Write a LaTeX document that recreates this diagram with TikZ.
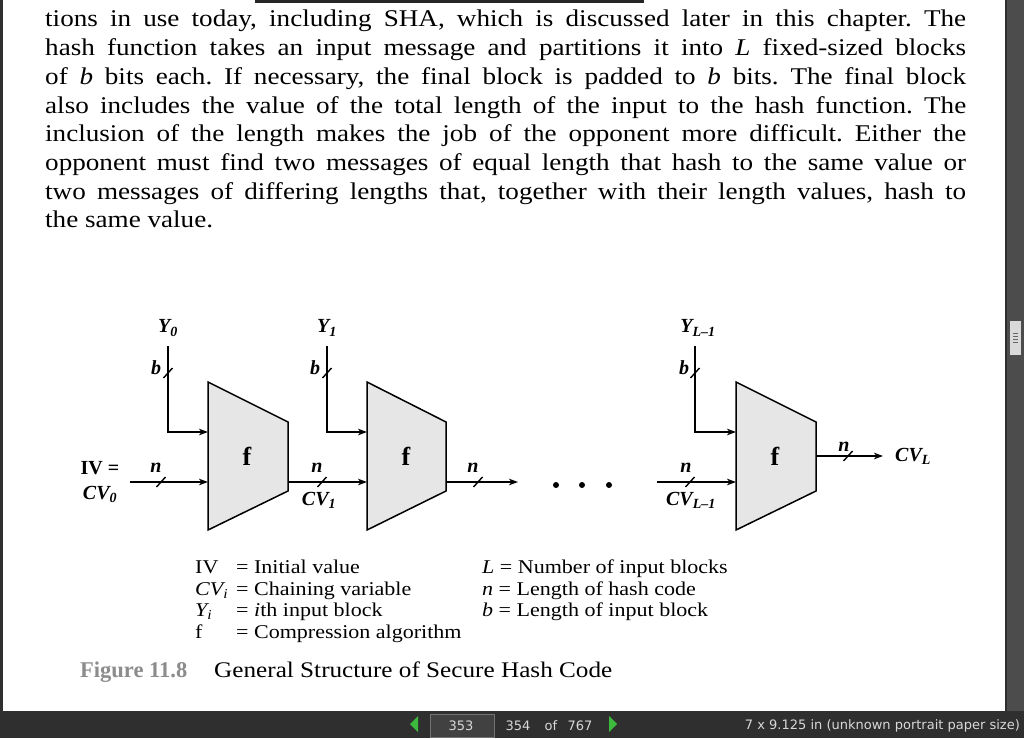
\documentclass[tikz,border=0pt]{standalone}
\usepackage{fontspec}
\setmainfont{Liberation Serif}
\newfontfamily\wideserif{Liberation Serif}[FakeStretch=1.13]
\newfontfamily\uifont{DejaVu Sans}
\usetikzlibrary{positioning,calc,arrows.meta}
\definecolor{uidark}{HTML}{2F2F2F}
\definecolor{uibox}{HTML}{414141}
\definecolor{uitext}{HTML}{D8D8D8}
\definecolor{uigreen}{HTML}{3DBA3D}
\definecolor{fgray}{HTML}{E6E6E6}
\definecolor{capgray}{HTML}{8C8C8C}

\begin{document}
\frenchspacing
\begin{tikzpicture}
                [x=1pt,y=-1pt,
                wire/.style={line width=1.8pt},
                arr/.style={wire,-{Stealth[length=9pt,width=6.5pt,inset=2.5pt]}},
                tick/.style={line width=1.4pt},
                fshape/.style={draw,line width=1.5pt,fill=fgray,line join=miter},
                fname/.style={font=\fontsize{26}{28}\selectfont\bfseries},
                lbl/.style={font=\fontsize{20}{22}\selectfont\bfseries\itshape,inner sep=1pt},
                dot/.style={circle,fill=black,inner sep=0pt,minimum size=6pt},
                body/.style={anchor=base west,inner sep=0pt,font=\wideserif\fontsize{24}{29}\selectfont},
                legend/.style={anchor=base west,inner sep=0pt,font=\wideserif\fontsize{19.5}{22}\selectfont},
                ui/.style={inner sep=0pt,text=uitext,font=\uifont\fontsize{13}{15}\selectfont}]
                % screen and page
                \useasboundingbox (0,0) rectangle (1024,738);
                \fill[uidark] (0,0) rectangle (1024,738);
                \fill[white] (3,0) rectangle (1005,711);
                \fill[black!85] (255,0) rectangle (644,3);
                % scroll bar
                \fill[black!70] (1007,0) rectangle (1024,711);
                \fill[black!15] (1010,321) rectangle (1021,355);
                \draw[black!60,line width=.8pt] (1013,333) -- (1018,333) (1013,336) -- (1018,336)
                        (1013,339) -- (1018,339) (1013,342) -- (1018,342);
                % body text
                \node[body] (l1) at (45,27) {\makebox[921pt][s]{tions in use today, including SHA, which is discussed later in this chapter. The}};
                \node[body] (l2) at (45,55.7) {\makebox[921pt][s]{hash function takes an input message and partitions it into \textit{L} fixed-sized blocks}};
                \node[body] (l3) at (45,84.4) {\makebox[921pt][s]{of \textit{b} bits each. If necessary, the final block is padded to \textit{b} bits. The final block}};
                \node[body] (l4) at (45,113.1) {\makebox[921pt][s]{also includes the value of the total length of the input to the hash function. The}};
                \node[body] (l5) at (45,141.8) {\makebox[921pt][s]{inclusion of the length makes the job of the opponent more difficult. Either the}};
                \node[body] (l6) at (45,170.5) {\makebox[921pt][s]{opponent must find two messages of equal length that hash to the same value or}};
                \node[body] (l7) at (45,199.2) {\makebox[921pt][s]{two messages of differing lengths that, together with their length values, hash to}};
                \node[body] (l8) at (45,227.9) {the same value.};
                % compression blocks
                \draw[fshape] (208,382) -- (288,422) -- (288,491) -- (208,530) -- cycle;
                \draw[fshape] (367,382) -- (446,422) -- (446,491) -- (367,530) -- cycle;
                \draw[fshape] (736,382) -- (816,422) -- (816,491) -- (736,530) -- cycle;
                \node[fname] (f1) at (247,456) {f};
                \node[fname] (f2) at (406,456) {f};
                \node[fname] (f3) at (775,456) {f};
                \coordinate (f1y) at (208,432);
                \coordinate (f1cv) at (208,482);
                \coordinate (f1out) at (288,482);
                \coordinate (f2y) at (367,432);
                \coordinate (f2cv) at (367,482);
                \coordinate (f2out) at (446,482);
                \coordinate (f3y) at (736,432);
                \coordinate (f3cv) at (736,482);
                \coordinate (f3out) at (816,456);
                % block inputs
                \node[lbl] (y0) at (168,328) {Y\textsubscript{\textbf{0}}};
                \node[lbl] (y1) at (327,328) {Y\textsubscript{\textbf{1}}};
                \node[lbl] (yl) at (698,328) {Y\textsubscript{\textbf{\textit{L}–1}}};
                \coordinate (y0top) at (168,346);
                \coordinate (y0bend) at (168,432);
                \coordinate (y1top) at (327,346);
                \coordinate (y1bend) at (327,432);
                \coordinate (yltop) at (695,346);
                \coordinate (ylbend) at (695,432);
                \draw[arr] (y0top) -- (y0bend) -- (f1y);
                \draw[arr] (y1top) -- (y1bend) -- (f2y);
                \draw[arr] (yltop) -- (ylbend) -- (f3y);
                \coordinate (b0) at (168,373);
                \coordinate (b1) at (327,373);
                \coordinate (bl) at (695,373);
                \node[lbl] (textb0) at (156,368) {b};
                \node[lbl] (textb1) at (315,368) {b};
                \node[lbl] (textbl) at (684,368) {b};
                % chaining values
                \node[lbl,font=\fontsize{20}{22}\selectfont\bfseries] (iv) at (100,468) {IV =};
                \node[lbl] (cv0) at (100,494) {CV\textsubscript{\textbf{0}}};
                \coordinate (ivstart) at (130,482);
                \coordinate (cv2end) at (518,482);
                \coordinate (cv3start) at (657,482);
                \coordinate (cvlend) at (883,456);
                \draw[arr] (ivstart) -- (f1cv);
                \draw[arr] (f1out) -- (f2cv);
                \draw[arr] (f2out) -- (cv2end);
                \draw[arr] (cv3start) -- (f3cv);
                \draw[arr] (f3out) -- (cvlend);
                \coordinate (n0) at (161,482);
                \coordinate (n1) at (322,482);
                \coordinate (n2) at (478,482);
                \coordinate (n3) at (690,482);
                \coordinate (nl) at (848,456);
                \node[lbl] (textn0) at (156,468) {n};
                \node[lbl] (textn1) at (317,468) {n};
                \node[lbl] (textn2) at (473,468) {n};
                \node[lbl] (textn3) at (686,468) {n};
                \node[lbl] (textnl) at (844,447) {n};
                \node[lbl] (cv1) at (319,500) {CV\textsubscript{\textbf{1}}};
                \node[lbl] (cvl1) at (691,500) {CV\textsubscript{\textbf{\textit{L}–1}}};
                \node[lbl,anchor=west] (cvl) at (894,456) {CV\textsubscript{\textbf{\textit{L}}}};
                % bus width ticks
                \foreach \t in {b0,b1,bl,n0,n1,n2,n3,nl}
                    \draw[tick] ($(\t)+(-4.5,5)$) -- ($(\t)+(4.5,-5)$);
                \node[dot] (dot1) at (556,485) {};
                \node[dot] (dot2) at (582,485) {};
                \node[dot] (dot3) at (609,485) {};
                % legend
                \node[legend] (k1) at (195,573) {IV};
                \node[legend] (k2) at (195,595) {\textit{CV\textsubscript{i}}};
                \node[legend] (k3) at (195,616) {\textit{Y\textsubscript{i}}};
                \node[legend] (k4) at (195,638) {f};
                \node[legend] (v1) at (236,573) {= Initial value};
                \node[legend] (v2) at (236,595) {= Chaining variable};
                \node[legend] (v3) at (236,616) {= \textit{i}th input block};
                \node[legend] (v4) at (236,638) {= Compression algorithm};
                \node[legend] (v5) at (482,573) {\textit{L} = Number of input blocks};
                \node[legend] (v6) at (482,595) {\textit{n} = Length of hash code};
                \node[legend] (v7) at (482,616) {\textit{b} = Length of input block};
                % caption
                \node[body,font=\fontsize{22.5}{26}\selectfont\bfseries,text=capgray] (fig) at (80,677) {Figure 11.8};
                \node[body,font=\wideserif\fontsize{22.3}{26}\selectfont] (title) at (214,677) {General Structure of Secure Hash Code};
                % viewer tool bar
                \fill[uigreen] (410,724) -- (418,716) -- (418,732) -- cycle;
                \fill[uigreen] (617,724) -- (609,716) -- (609,732) -- cycle;
                \draw[black!55,fill=uibox] (430,714) rectangle (494,737);
                \node[ui] (page) at (461,725.5) {353};
                \node[ui] (cur) at (518,725.5) {354};
                \node[ui] (of) at (551,725.5) {of};
                \node[ui] (tot) at (580,725.5) {767};
                \node[ui,anchor=east] (size) at (1020,725.5) {7 x 9.125 in (unknown portrait paper size)};
            \end{tikzpicture}
\end{document}
